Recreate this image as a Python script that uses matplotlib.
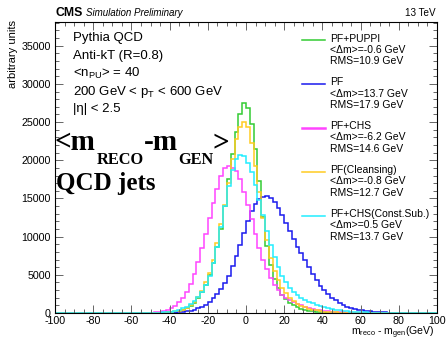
import numpy as np
import matplotlib
matplotlib.use("Agg")
import matplotlib.pyplot as plt
from matplotlib.lines import Line2D
from matplotlib.ticker import MultipleLocator

plt.rcParams['font.family'] = ['Liberation Sans', 'DejaVu Sans']
plt.rcParams['mathtext.fontset'] = 'custom'
plt.rcParams['mathtext.rm'] = 'Liberation Sans'
plt.rcParams['mathtext.it'] = 'Liberation Sans:italic'
plt.rcParams['mathtext.bf'] = 'Liberation Sans:bold'
plt.rcParams['axes.unicode_minus'] = False

# ---------------- data (2 GeV bins, -100 .. 100) ----------------
bin_edges = np.arange(-100, 101, 2)
pad = [0.0] * 20  # bins from -100 to -60 are empty

puppi = pad + [
    0, 0, 5, 8, 12, 18, 25, 35, 50, 70,
    80, 130, 220, 350, 600, 950, 1350, 1900, 2700, 3700,
    5000, 6600, 8600, 11000, 14000, 17500, 20800, 23700, 26000, 27500,
    26800, 24800, 21500, 17300, 12600, 8800, 6300, 4500, 3300, 2400,
    1800, 1300, 1000, 750, 550, 400, 300, 220, 160, 120,
    90, 65, 50, 38, 28, 20, 15, 12, 9, 7,
    5, 4, 3, 2, 2, 1, 1, 1, 0, 0,
    0, 0, 0, 0, 0, 0, 0, 0, 0, 0]

pf = pad + [
    0, 0, 0, 1, 2, 3, 4, 6, 9, 13,
    20, 40, 70, 120, 200, 300, 430, 600, 820, 1100,
    1450, 1900, 2450, 3100, 3900, 4900, 6100, 7500, 8900, 10500,
    12100, 13400, 14300, 14900, 15200, 15300, 15000, 14500, 13700, 12800,
    11800, 10800, 9700, 8700, 7800, 6900, 6000, 5100, 4300, 3600,
    3000, 2500, 2000, 1650, 1300, 1050, 850, 680, 540, 430,
    340, 270, 210, 170, 130, 100, 80, 65, 50, 40,
    32, 26, 20, 16, 13, 10, 8, 6, 5, 4]

chs = pad + [
    5, 8, 12, 20, 35, 55, 90, 150, 250, 400,
    650, 950, 1400, 2000, 2800, 3800, 5100, 6700, 8500, 10400,
    12400, 14400, 16300, 17900, 19000, 19200, 19000, 18600, 17500, 15900,
    14200, 12300, 10300, 8500, 7000, 5700, 4600, 3700, 3000, 2400,
    2000, 1700, 1450, 1200, 1000, 800, 650, 520, 420, 330,
    260, 200, 160, 125, 100, 80, 60, 45, 35, 28,
    22, 17, 13, 10, 8, 6, 5, 4, 3, 2,
    2, 1, 1, 1, 0, 0, 0, 0, 0, 0]

cleansing = pad + [
    0, 2, 5, 10, 15, 22, 32, 45, 65, 95,
    140, 200, 300, 440, 680, 1050, 1500, 2050, 2900, 4000,
    5300, 7000, 9100, 11600, 14200, 17000, 20200, 22800, 24400, 25000,
    24400, 22200, 19200, 15800, 12500, 9500, 7200, 5500, 4300, 3300,
    2600, 2000, 1550, 1200, 950, 750, 580, 440, 330, 250,
    190, 140, 100, 75, 55, 40, 30, 22, 16, 12,
    9, 7, 5, 4, 3, 2, 2, 1, 1, 0,
    0, 0, 0, 0, 0, 0, 0, 0, 0, 0]

constsub = pad + [
    2, 4, 7, 10, 15, 22, 32, 50, 80, 120,
    180, 270, 400, 600, 850, 1150, 1550, 2100, 2800, 3700,
    4800, 6500, 8600, 11200, 14000, 16600, 18700, 20200, 20700, 20600,
    19700, 18400, 16700, 14800, 12800, 10800, 8900, 7300, 6000, 4900,
    4000, 3300, 2750, 2300, 1950, 1700, 1480, 1250, 1050, 880,
    760, 640, 540, 450, 370, 300, 240, 190, 150, 120,
    95, 75, 60, 45, 35, 28, 22, 17, 13, 10,
    8, 6, 5, 4, 3, 2, 2, 1, 1, 1]

series_values = [puppi, pf, chs, cleansing, constsub]
series_names = ["PF+PUPPI", "PF", "PF+CHS", "PF(Cleansing)", "PF+CHS(Const.Sub.)"]
series_mean = ["-0.6", "13.7", "-6.2", "-0.8", "0.5"]
series_rms = ["10.9", "17.9", "14.6", "12.7", "13.7"]
series_colors = ["#33cc33", "#1a1aee", "#ff44ff", "#ffcc22", "#22eeff"]

info_lines = ["Pythia QCD", "Anti-kT (R=0.8)", r"<n$_{\mathrm{PU}}$> = 40",
              r"200 GeV < p$_{\mathrm{T}}$ < 600 GeV", "|η| < 2.5"]

# ---------------- figure ----------------
W, H = 446, 340
fig = plt.figure(figsize=(W / 100, H / 100), dpi=100)
ax = fig.add_axes([55 / W, 1 - 313 / H, (437 - 55) / W, (313 - 22) / H])

for vals, col in zip(series_values, series_colors):
    ax.stairs(np.array(vals, dtype=float), bin_edges, color=col, lw=1.1)

ax.set_xlim(-100, 100)
ax.set_ylim(0, 38100)
ax.xaxis.set_major_locator(MultipleLocator(20))
ax.xaxis.set_minor_locator(MultipleLocator(5))
ax.yaxis.set_major_locator(MultipleLocator(5000))
ax.yaxis.set_minor_locator(MultipleLocator(1000))
ax.tick_params(which='both', direction='in', top=True, right=True,
               color='#666666', width=0.7, labelsize=7.7)
ax.tick_params(which='major', length=5.5)
ax.tick_params(which='minor', length=3)
ax.tick_params(axis='x', pad=2)
ax.tick_params(axis='y', pad=3)
for sp in ax.spines.values():
    sp.set_linewidth(0.8)

def px(x, y):
    return x / W, 1 - y / H

# header
fig.text(*px(55, 15.5), "CMS", fontsize=8.8, fontweight='bold', ha='left', va='baseline')
fig.text(*px(86, 15.5), "Simulation Preliminary", fontsize=7, style='italic', ha='left', va='baseline')
fig.text(*px(436, 15.5), "13 TeV", fontsize=7.1, ha='right', va='baseline')

# axis labels
fig.text(*px(13, 20), "arbitrary units", fontsize=8, rotation=90, ha='center', va='top')
fig.text(*px(435, 335.5), r"m$_{\mathrm{reco}}$ - m$_{\mathrm{gen}}$(GeV)", fontsize=7.6,
         ha='right', va='baseline')

# info text
info_y = [40.5, 59.5, 76.5, 94.5, 112.5]
for txt, yy in zip(info_lines, info_y):
    fig.text(*px(73, yy), txt, fontsize=9.5, ha='left', va='baseline')

# big serif text
serif = dict(family='Liberation Serif', fontweight='bold', ha='left', va='baseline', color='black')
fig.text(*px(55, 150.5), "<m", fontsize=21, **serif)
fig.text(*px(97, 164), "RECO", fontsize=11.8, **serif)
fig.text(*px(143.5, 150.5), "-m", fontsize=21, **serif)
fig.text(*px(178, 164), "GEN", fontsize=11.8, **serif)
fig.text(*px(213, 150.5), ">", fontsize=21, **serif)
fig.text(*px(56, 190), "QCD jets", fontsize=18, **serif)

# legend
for i, (name, m, r, col) in enumerate(zip(series_names, series_mean, series_rms, series_colors)):
    y0 = 38.5 + i * 43.9
    x0, y0f = px(302, y0 + 1.5)
    x1, _ = px(325, y0 + 1.5)
    fig.add_artist(Line2D([x0, x1], [y0f, y0f], color=col, lw=1.1 if i != 2 else 1.8,
                          transform=fig.transFigure))
    fig.text(*px(330, y0), name, fontsize=7.5, ha='left', va='center')
    fig.text(*px(330, y0 + 11.2), "<Δm>=" + m + " GeV", fontsize=7.5, ha='left', va='center')
    fig.text(*px(330, y0 + 22.4), "RMS=" + r + " GeV", fontsize=7.5, ha='left', va='center')

fig.savefig("out.png", dpi=100)
